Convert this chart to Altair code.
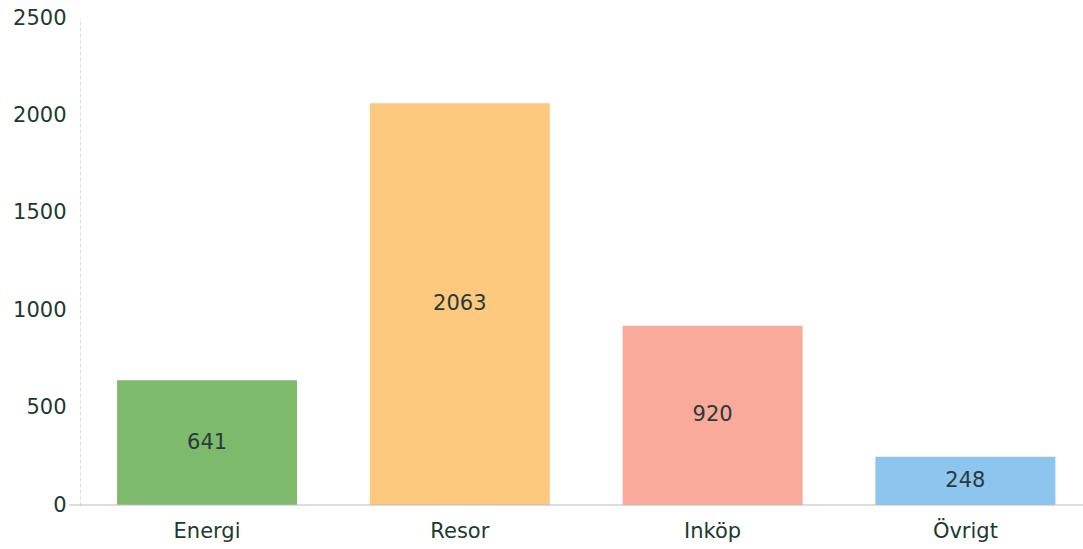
import altair as alt
import pandas as pd

categories = ["Energi", "Resor", "Inköp", "Övrigt"]
values = [641, 2063, 920, 248]
colors = ["#7dba6b", "#fdc97f", "#f9aa9b", "#8cc6ef"]
y_ticks = [0, 500, 1000, 1500, 2000, 2500]

df = pd.DataFrame({"cat": categories, "val": values})
df["half"] = df["val"] / 2

W, H = 1003, 487
FONT = "DejaVu Sans"
TXT = "#1d3a30"
FS = 21

xscale = alt.Scale(domain=categories, paddingInner=0.288, paddingOuter=0.128, align=0.573)
yscale = alt.Scale(domain=[0, 2500], nice=False)

bars = alt.Chart(df).mark_bar().encode(
    x=alt.X("cat:N", scale=xscale, sort=categories, title=None,
            axis=alt.Axis(labelAngle=0, ticks=False, domain=False, labelPadding=15,
                          labelFont=FONT, labelFontSize=FS, labelColor=TXT)),
    y=alt.Y("val:Q", scale=yscale, title=None,
            axis=alt.Axis(values=y_ticks, format="d", grid=False, ticks=False, labelPadding=14,
                          labelFont=FONT, labelFontSize=FS, labelColor=TXT,
                          domainColor="#dddddd", domainDash=[4, 2])),
    color=alt.Color("cat:N", scale=alt.Scale(domain=categories, range=colors), legend=None),
)

labels = alt.Chart(df).mark_text(font=FONT, fontSize=FS, color="#2a3a3a", baseline="middle").encode(
    x=alt.X("cat:N", scale=xscale, sort=categories),
    y=alt.Y("half:Q", scale=yscale),
    text=alt.Text("val:Q"),
)

baseline = alt.Chart(pd.DataFrame({"z": [0]})).mark_rule(color="#bbbbbb", strokeWidth=1).encode(
    y=alt.Y("z:Q", scale=yscale),
    x=alt.value(-11),
    x2=alt.value(W),
)

chart = alt.layer(bars, labels, baseline).properties(
    width=W, height=H,
    background="white",
    autosize=alt.AutoSizeParams(type="none"),
    padding={"left": 80, "top": 18, "right": 0, "bottom": 44},
).configure_view(strokeWidth=0, stroke=None)

chart.save("out.html", embed_options={"renderer": "svg", "actions": False})
